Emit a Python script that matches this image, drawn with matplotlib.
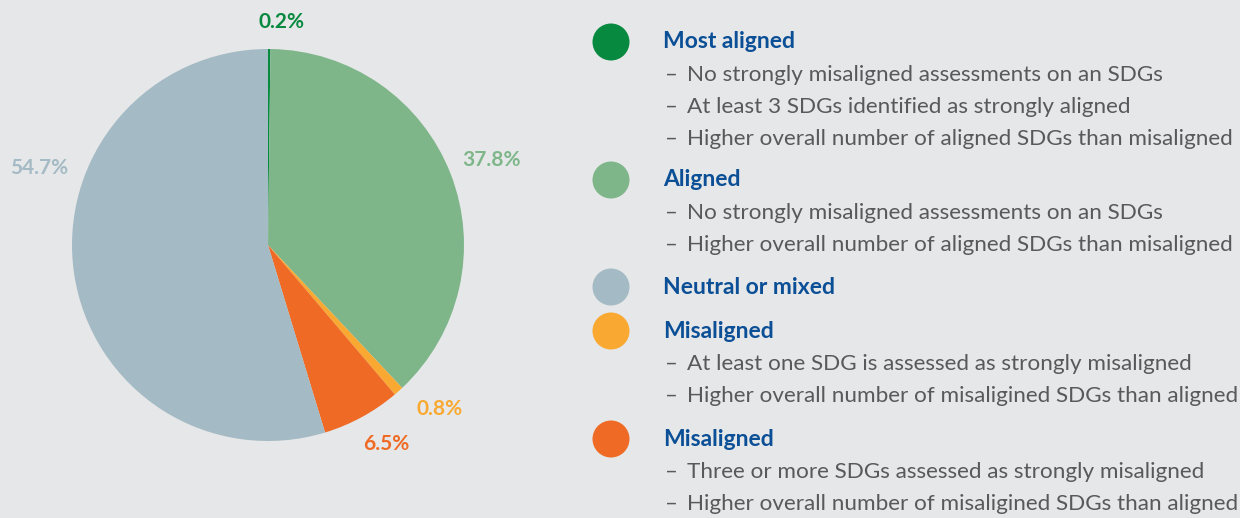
import numpy as np
import matplotlib.pyplot as plt

# slice data, clockwise from 12 o'clock
categories = ["Most aligned", "Aligned", "Misaligned", "Misaligned", "Neutral or mixed"]
shares = [0.2, 37.8, 0.8, 6.5, 54.7]
colors = ["#078a3f", "#7eb68a", "#f9a931", "#ef6b25", "#a4bac4"]

# legend entries (top to bottom)
legend_titles = ["Most aligned", "Aligned", "Neutral or mixed", "Misaligned", "Misaligned"]
legend_colors = ["#078a3f", "#7eb68a", "#a4bac4", "#f9a931", "#ef6b25"]
legend_bullets = [
    ["No strongly misaligned assessments on an SDGs",
     "At least 3 SDGs identified as strongly aligned",
     "Higher overall number of aligned SDGs than misaligned"],
    ["No strongly misaligned assessments on an SDGs",
     "Higher overall number of aligned SDGs than misaligned"],
    [],
    ["At least one SDG is assessed as strongly misaligned",
     "Higher overall number of misaligined SDGs than aligned"],
    ["Three or more SDGs assessed as strongly misaligned",
     "Higher overall number of misaligined SDGs than aligned"],
]

W, H = 1240, 518
bg = "#e6e7e8"
blue = "#0b4f96"
grey = "#58595b"

fig = plt.figure(figsize=(W / 100, H / 100), dpi=100, facecolor=bg)
ax = fig.add_axes([0, 0, 1, 1])
ax.set_facecolor(bg)

cx, cy, r = 268, H - 245, 196
wedges, _ = ax.pie(shares, colors=colors, startangle=90, counterclock=False,
                   center=(cx, cy), radius=r,
                   wedgeprops=dict(linewidth=0))
ax.set_xlim(0, W)
ax.set_ylim(0, H)
ax.set_aspect("equal")
ax.axis("off")

# percentage labels placed around each wedge
label_dist = [1.14, 1.22, 1.21, 1.18, 1.23]
label_shift = [3, 0.5, -4.5, -2, 27]   # degrees, clockwise nudges
for w, s, c, d, sh in zip(wedges, shares, colors, label_dist, label_shift):
    mid = np.deg2rad((w.theta1 + w.theta2) / 2 - sh)
    x = cx + d * r * np.cos(mid)
    y = cy + d * r * np.sin(mid)
    ax.text(x, y, f"{s}%", color=c, fontsize=15, fontweight="bold",
            family="Lato", ha="center", va="center")

# legend on the right
header_y = [42, 180, 287, 331, 439]
for ty, title, col, bullets in zip(header_y, legend_titles, legend_colors, legend_bullets):
    ax.add_patch(plt.Circle((611, H - ty), 18.5, color=col, lw=0))
    ax.text(663, H - ty, title, color=blue, fontsize=16.5, fontweight="bold",
            family="Lato", va="center", ha="left")
    for i, b in enumerate(bullets):
        by = H - (ty + 33 + 32 * i)
        ax.text(665, by, "\u2013", color=grey, fontsize=16, family="Lato",
                va="center", ha="left")
        ax.text(687, by, b, color=grey, fontsize=16.2, family="Lato",
                va="center", ha="left")

fig.savefig("out.png", dpi=100, facecolor=bg)
